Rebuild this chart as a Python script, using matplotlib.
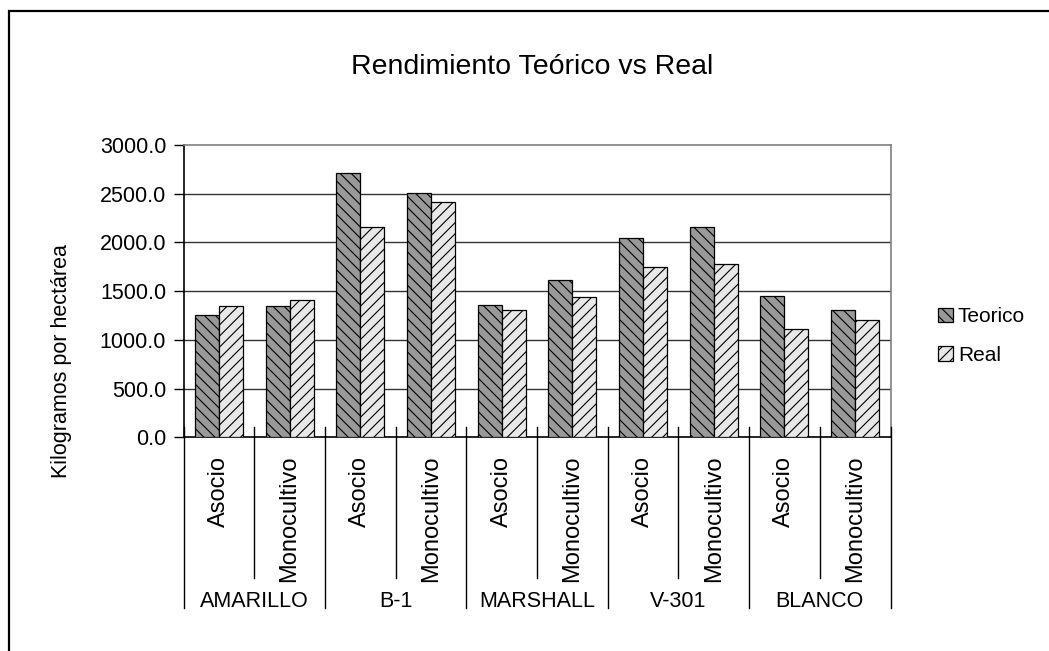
import matplotlib
matplotlib.use("Agg")
import matplotlib.pyplot as plt
import matplotlib.transforms as mtransforms
from matplotlib.patches import Rectangle
from matplotlib.lines import Line2D
import numpy as np

# ---- data ----
groups = ["AMARILLO", "B-1", "MARSHALL", "V-301", "BLANCO"]
subcats = ["Asocio", "Monocultivo"]
teorico = [1260, 1350, 2710, 2510, 1355, 1610, 2045, 2155, 1455, 1305]
real = [1350, 1405, 2155, 2420, 1310, 1440, 1750, 1775, 1110, 1205]
series_names = ["Teorico", "Real"]
yticks = [0, 500, 1000, 1500, 2000, 2500, 3000]
title = "Rendimiento Teórico vs Real"
ylabel = "Kilogramos por hectárea"

plt.rcParams['font.family'] = ['Liberation Sans', 'DejaVu Sans']
plt.rcParams['hatch.linewidth'] = 0.8
plt.rcParams['hatch.color'] = 'black'

W, H = 1049, 651
fig = plt.figure(figsize=(W / 100, H / 100), dpi=100)
ax_left, ax_right, ax_top, ax_bot = 183.5, 890.5, 145.0, 437.3
ax = fig.add_axes([ax_left / W, 1 - ax_bot / H, (ax_right - ax_left) / W, (ax_bot - ax_top) / H])

n = len(teorico)
centers = np.arange(n) + 0.5
w = 0.34
ax.bar(centers - w / 2, teorico, width=w, color='#999999', edgecolor='black',
       linewidth=0.9, hatch='\\\\\\', label=series_names[0], zorder=3)
ax.bar(centers + w / 2, real, width=w, color='#e8e8e8', edgecolor='black',
       linewidth=0.9, hatch='///', label=series_names[1], zorder=3)

ax.set_xlim(0, n)
ax.set_ylim(0, 3000)
ax.set_yticks(yticks)
ax.set_yticklabels([f"{v:.1f}" for v in yticks], fontsize=15.5)
ax.tick_params(axis='y', direction='out', length=7.5, width=1, pad=5, colors='black')
ax.set_xticks([])
for y in yticks[1:-1]:
    ax.axhline(y, color='#333333', linewidth=1.0, zorder=1)

ax.spines['left'].set_color('black')
ax.spines['left'].set_linewidth(1.2)
ax.spines['bottom'].set_color('black')
ax.spines['bottom'].set_linewidth(1.2)
ax.spines['top'].set_color('#808080')
ax.spines['right'].set_color('#808080')
ax.spines['top'].set_linewidth(1.2)
ax.spines['right'].set_linewidth(1.2)

# category axis lines and labels
trans = mtransforms.blended_transform_factory(ax.transData, ax.transAxes)
axh = ax_bot - ax_top
def ay(py):
    return -(py - ax_bot) / axh

for i in range(n + 1):
    top = ay(427)
    if i % 2 == 0:
        bottom = ay(608)
    else:
        bottom = ay(578)
    ax.add_line(Line2D([i, i], [top, bottom], transform=trans, color='black',
                       linewidth=1.0, clip_on=False, zorder=4))

for i in range(n):
    ax.text(centers[i], ay(456), subcats[i % 2], rotation=90, ha='center', va='top',
            fontsize=17, transform=trans, clip_on=False)
for g, name in enumerate(groups):
    ax.text(2 * g + 1, ay(607), name, ha='center', va='baseline', fontsize=15.5,
            transform=trans, clip_on=False)

# title & y label
fig.text(532 / W, 1 - 73.5 / H, title, ha='center', va='baseline', fontsize=20.5)
fig.text(61 / W, 1 - 361 / H, ylabel, rotation=90, ha='center', va='center', fontsize=15.5)

# legend
leg = fig.legend(loc='center left', bbox_to_anchor=(938 / W, 1 - 336 / H),
                 frameon=False, fontsize=15, handlelength=0.7, handleheight=0.7,
                 handletextpad=0.25, labelspacing=0.95, borderpad=0, borderaxespad=0)

# outer border
fig.patches.append(Rectangle((9 / W, -0.2), 2.0, 1.2 - 11 / H, transform=fig.transFigure,
                             fill=False, edgecolor='black', linewidth=1.6, zorder=0))

fig.savefig("out.png", dpi=100)
